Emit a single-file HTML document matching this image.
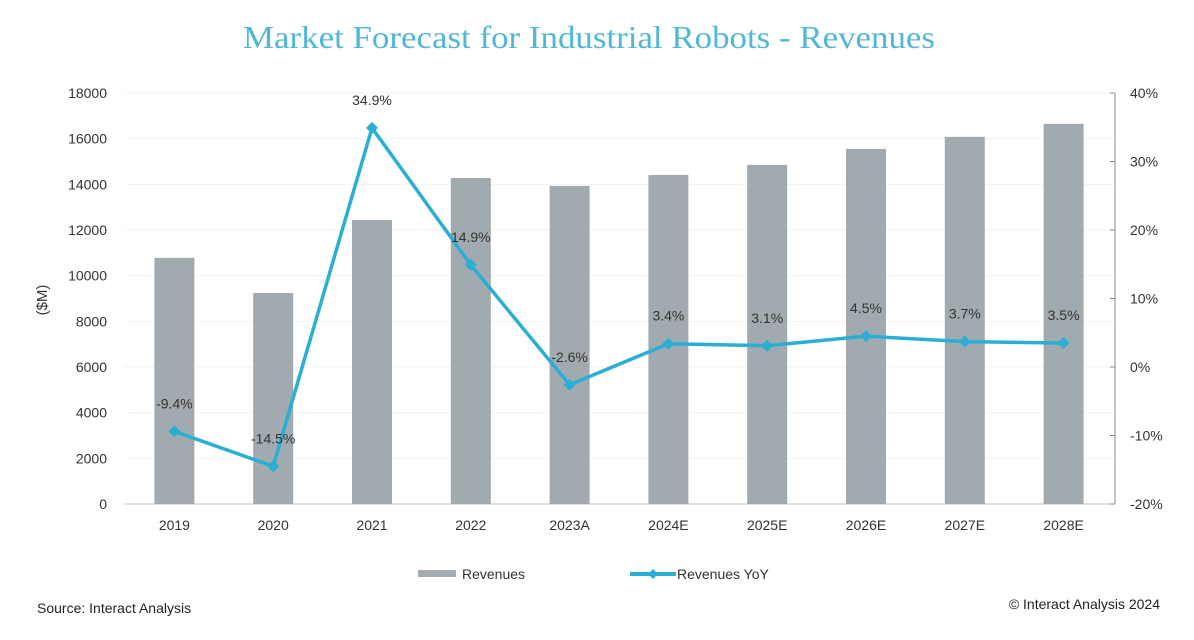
<!DOCTYPE html>
<html><head><meta charset="utf-8">
<style>
html,body{margin:0;padding:0;background:#fff;}
body{width:1194px;height:635px;overflow:hidden;font-family:"Liberation Sans",sans-serif;}
</style></head>
<body>
<svg id="chart" width="1194" height="635" xmlns="http://www.w3.org/2000/svg">
<text x="243" y="48" textLength="692" lengthAdjust="spacingAndGlyphs" font-family="Liberation Serif, serif" font-size="32" fill="#4fb7d9">Market Forecast for Industrial Robots - Revenues</text>
<text transform="translate(47,300) rotate(-90)" text-anchor="middle" font-size="15" fill="#333">($M)</text>
<text x="37" y="613" font-size="14" fill="#222">Source: Interact Analysis</text>
<text x="1160" y="609" text-anchor="end" font-size="14" fill="#222">© Interact Analysis 2024</text>
<g id="legend">
<rect x="418" y="570" width="38" height="7" fill="#a3acb1"/>
<text x="462" y="579" font-size="14" fill="#333">Revenues</text>
<line x1="630" y1="574" x2="676" y2="574" stroke="#2aaed6" stroke-width="4"/>
<path d="M653 569 L658 574 L653 579 L648 574Z" fill="#2aaed6"/>
<text x="677" y="579" font-size="14" fill="#333">Revenues YoY</text>
</g>
</svg>
<script>
const categories=["2019","2020","2021","2022","2023A","2024E","2025E","2026E","2027E","2028E"];
const revenues=[10780,9240,12440,14280,13930,14410,14850,15550,16080,16650];
const yoy=[-9.4,-14.5,34.9,14.9,-2.6,3.4,3.1,4.5,3.7,3.5];
const leftTicks=[0,2000,4000,6000,8000,10000,12000,14000,16000,18000];
const rightTicks=[-20,-10,0,10,20,30,40];

const NS="http://www.w3.org/2000/svg";
const svg=document.getElementById("chart");
const x0=125,x1=1113,yTop=93,yBot=504;
const band=(x1-x0)/categories.length;
const xc=i=>x0+band*(i+0.5);
const yL=v=>yBot-(v/18000)*(yBot-yTop);
const yR=v=>yBot-((v+20)/60)*(yBot-yTop);
function mk(tag,attrs,parent){const e=document.createElementNS(NS,tag);for(const k in attrs)e.setAttribute(k,attrs[k]);(parent||svg).appendChild(e);return e;}

leftTicks.forEach(t=>{
 const g=mk("line",{x1:x0,x2:x1,y1:yL(t),y2:yL(t),stroke:t===0?"#bfbfbf":"#f2f2f2","stroke-width":1});
 
 
 const l=mk("text",{x:107,y:yL(t)+5,"text-anchor":"end","font-size":14,fill:"#333"});
 l.textContent=t;
 
 
});
const ax=mk("line",{x1:1115,x2:1115,y1:yTop,y2:yBot,stroke:"#888","stroke-width":1});


rightTicks.forEach(t=>{
 const tk=mk("line",{x1:1110,x2:1115,y1:yR(t),y2:yR(t),stroke:"#888"});
 
 
 const l=mk("text",{x:1130,y:yR(t)+5,"font-size":14,fill:"#333"});
 l.textContent=t+"%";
 
 
});
categories.forEach((c,i)=>{
 const b=mk("rect",{x:xc(i)-20,y:yL(revenues[i]),width:40,height:yBot-yL(revenues[i]),fill:"#a1aaaf"});
 
 
 const l=mk("text",{x:xc(i),y:530,"text-anchor":"middle","font-size":14,fill:"#333"});
 l.textContent=c;
 
 
});
const pts=yoy.map((v,i)=>xc(i)+","+yR(v)).join(" ");
const line=mk("polyline",{points:pts,fill:"none",stroke:"#2aaed6","stroke-width":3.5,"stroke-linejoin":"round"});


yoy.forEach((v,i)=>{
 const x=xc(i),y=yR(v);
 const m=mk("path",{d:`M${x} ${y-6} L${x+6} ${y} L${x} ${y+6} L${x-6} ${y}Z`,fill:"#2aaed6"});
 
 
 const l=mk("text",{x:x,y:y-23,"text-anchor":"middle","font-size":14,fill:"#333"});
 l.textContent=v.toFixed(1)+"%";
 
 
});
</script>
</body></html>
